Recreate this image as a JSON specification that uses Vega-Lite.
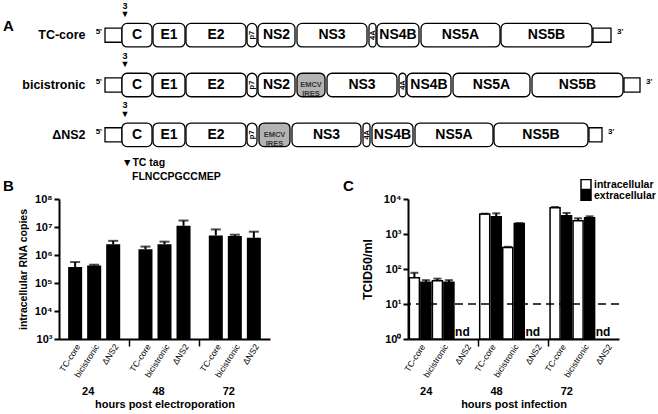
{
  "$schema": "https://vega.github.io/schema/vega-lite/v6.json",
  "padding": {"left": 3, "top": 1, "right": 0, "bottom": 0},
  "bounds": "flush",
  "spacing": 39,
  "config": {
    "font": "Liberation Sans",
    "view": {"stroke": null},
    "axis": {"domainColor": "black", "domainWidth": 2, "tickColor": "black", "tickWidth": 2, "labelColor": "black", "titleColor": "black", "labelFontWeight": "bold", "titleFontWeight": "bold", "grid": false},
    "title": {"fontSize": 15, "fontWeight": "bold", "anchor": "start", "frame": "group", "offset": 0, "color": "black"},
    "text": {"color": "black"}
  },
  "vconcat": [
    {
      "width": 599,
      "height": 150,
      "data": {"values": [
        {"row": "TC-core", "name": "5'", "kind": "utr", "start": 0, "end": 17},
        {"row": "TC-core", "name": "C", "kind": "orf", "start": 17, "end": 47},
        {"row": "TC-core", "name": "E1", "kind": "orf", "start": 48, "end": 80},
        {"row": "TC-core", "name": "E2", "kind": "orf", "start": 81, "end": 141},
        {"row": "TC-core", "name": "p7", "kind": "small", "start": 142, "end": 152},
        {"row": "TC-core", "name": "NS2", "kind": "orf", "start": 153, "end": 190},
        {"row": "TC-core", "name": "NS3", "kind": "orf", "start": 192, "end": 262},
        {"row": "TC-core", "name": "4A", "kind": "small", "start": 264, "end": 271},
        {"row": "TC-core", "name": "NS4B", "kind": "orf", "start": 272, "end": 314},
        {"row": "TC-core", "name": "NS5A", "kind": "orf", "start": 316, "end": 395},
        {"row": "TC-core", "name": "NS5B", "kind": "orf", "start": 396, "end": 487},
        {"row": "TC-core", "name": "3'", "kind": "utr", "start": 488, "end": 506},
        {"row": "bicistronic", "name": "5'", "kind": "utr", "start": 0, "end": 17},
        {"row": "bicistronic", "name": "C", "kind": "orf", "start": 17, "end": 47},
        {"row": "bicistronic", "name": "E1", "kind": "orf", "start": 48, "end": 80},
        {"row": "bicistronic", "name": "E2", "kind": "orf", "start": 81, "end": 141},
        {"row": "bicistronic", "name": "p7", "kind": "small", "start": 142, "end": 152},
        {"row": "bicistronic", "name": "NS2", "kind": "orf", "start": 153, "end": 190},
        {"row": "bicistronic", "name": "EMCV\nIRES", "kind": "ires", "start": 192, "end": 220},
        {"row": "bicistronic", "name": "NS3", "kind": "orf", "start": 222, "end": 292},
        {"row": "bicistronic", "name": "4A", "kind": "small", "start": 294, "end": 301},
        {"row": "bicistronic", "name": "NS4B", "kind": "orf", "start": 302, "end": 346},
        {"row": "bicistronic", "name": "NS5A", "kind": "orf", "start": 348, "end": 425},
        {"row": "bicistronic", "name": "NS5B", "kind": "orf", "start": 427, "end": 518},
        {"row": "bicistronic", "name": "3'", "kind": "utr", "start": 519, "end": 535},
        {"row": "ΔNS2", "name": "5'", "kind": "utr", "start": 0, "end": 17},
        {"row": "ΔNS2", "name": "C", "kind": "orf", "start": 17, "end": 47},
        {"row": "ΔNS2", "name": "E1", "kind": "orf", "start": 48, "end": 80},
        {"row": "ΔNS2", "name": "E2", "kind": "orf", "start": 81, "end": 141},
        {"row": "ΔNS2", "name": "p7", "kind": "small", "start": 142, "end": 152},
        {"row": "ΔNS2", "name": "EMCV\nIRES", "kind": "ires", "start": 154, "end": 185},
        {"row": "ΔNS2", "name": "NS3", "kind": "orf", "start": 187, "end": 256},
        {"row": "ΔNS2", "name": "4A", "kind": "small", "start": 258, "end": 265},
        {"row": "ΔNS2", "name": "NS4B", "kind": "orf", "start": 267, "end": 308},
        {"row": "ΔNS2", "name": "NS5A", "kind": "orf", "start": 310, "end": 388},
        {"row": "ΔNS2", "name": "NS5B", "kind": "orf", "start": 389, "end": 483},
        {"row": "ΔNS2", "name": "3'", "kind": "utr", "start": 484, "end": 497}
      ]},
      "transform": [{"calculate": "(datum.start + datum.end) / 2", "as": "mid"}],
      "encoding": {
        "y": {"field": "row", "type": "nominal", "title": null,
          "scale": {"domain": ["TC-core", "bicistronic", "ΔNS2"], "paddingInner": 0.528, "paddingOuter": 0.27},
          "axis": {"domain": false, "ticks": false, "labelPadding": 0, "offset": -26, "labelFontSize": 12.5, "labelFontWeight": "bold"}}
      },
      "layer": [
        {
          "transform": [{"filter": "datum.kind === 'utr'"}],
          "mark": {"type": "bar", "height": {"band": 0.6}, "fill": "white", "stroke": "black", "strokeWidth": 1.3},
          "encoding": {
            "x": {"field": "start", "type": "quantitative", "scale": {"domain": [-46, 553], "nice": false, "zero": false}, "axis": null},
            "x2": {"field": "end"}
          }
        },
        {
          "transform": [{"filter": "datum.kind !== 'utr'"}],
          "mark": {"type": "bar", "cornerRadius": 5, "stroke": "black", "strokeWidth": 1.3},
          "encoding": {
            "x": {"field": "start", "type": "quantitative", "axis": null},
            "x2": {"field": "end"},
            "fill": {"condition": {"test": "datum.kind === 'ires'", "value": "#b3b3b3"}, "value": "white"}
          }
        },
        {
          "transform": [{"filter": "datum.kind === 'orf'"}],
          "mark": {"type": "text", "fontSize": 14, "fontWeight": "bold", "align": "center", "baseline": "middle"},
          "encoding": {"x": {"field": "mid", "type": "quantitative"}, "text": {"field": "name"}}
        },
        {
          "transform": [{"filter": "datum.kind === 'small'"}],
          "mark": {"type": "text", "fontSize": 7.5, "fontWeight": "bold", "align": "center", "baseline": "middle", "angle": 270},
          "encoding": {"x": {"field": "mid", "type": "quantitative"}, "text": {"field": "name"}}
        },
        {
          "transform": [{"filter": "datum.kind === 'ires'"}],
          "mark": {"type": "text", "fontSize": 7.5, "fontWeight": "bold", "align": "center", "baseline": "middle", "lineBreak": "\n", "lineHeight": 9, "color": "#333333"},
          "encoding": {"x": {"field": "mid", "type": "quantitative"}, "text": {"field": "name"}}
        },
        {
          "transform": [{"filter": "datum.name === \"5'\""}],
          "mark": {"type": "text", "fontSize": 8, "fontWeight": "bold", "align": "right", "baseline": "middle", "dx": -3, "dy": -3},
          "encoding": {"x": {"field": "start", "type": "quantitative"}, "text": {"field": "name"}}
        },
        {
          "transform": [{"filter": "datum.name === \"3'\""}],
          "mark": {"type": "text", "fontSize": 8, "fontWeight": "bold", "align": "left", "baseline": "middle", "dx": 6, "dy": -3},
          "encoding": {"x": {"field": "end", "type": "quantitative"}, "text": {"field": "name"}}
        },
        {
          "transform": [{"filter": "datum.name === 'C'"}],
          "mark": {"type": "text", "fontSize": 9, "fontWeight": "bold", "align": "center", "baseline": "middle", "dx": 3, "dy": -29.5, "text": "3"},
          "encoding": {"x": {"field": "start", "type": "quantitative"}}
        },
        {
          "transform": [{"filter": "datum.name === 'C'"}],
          "mark": {"type": "text", "fontSize": 9, "align": "center", "baseline": "middle", "dx": 3, "dy": -21, "text": "▼"},
          "encoding": {"x": {"field": "start", "type": "quantitative"}}
        },
        {
          "transform": [{"filter": "datum.name === 'C' && datum.row === 'ΔNS2'"}],
          "mark": {"type": "text", "fontSize": 10.5, "fontWeight": "bold", "align": "left", "baseline": "middle", "dy": 28, "text": "▼TC tag"},
          "encoding": {"x": {"field": "start", "type": "quantitative"}}
        },
        {
          "transform": [{"filter": "datum.name === 'C' && datum.row === 'ΔNS2'"}],
          "mark": {"type": "text", "fontSize": 10.5, "fontWeight": "bold", "align": "left", "baseline": "middle", "dx": 10, "dy": 42, "text": "FLNCCPGCCMEP"},
          "encoding": {"x": {"field": "start", "type": "quantitative"}}
        },
        {
          "data": {"values": [{"panel": "A"}]},
          "mark": {"type": "text", "fontSize": 15, "fontWeight": "bold", "align": "left", "baseline": "middle", "dx": -56, "dy": -9},
          "encoding": {"x": {"datum": -46}, "y": {"datum": "TC-core"}, "text": {"field": "panel"}}
        }
      ]
    },
    {
      "bounds": "flush",
      "spacing": 138,
      "resolve": {"scale": {"xOffset": "independent"}},
      "hconcat": [
        {
          "width": 211,
          "height": 140,
          "title": {"text": "B", "dx": -56, "dy": 4.5},
          "data": {"values": [
            {"hour": "24", "construct": "TC-core", "value": 370000, "err": 560000},
            {"hour": "24", "construct": "bicistronic", "value": 420000, "err": 450000},
            {"hour": "24", "construct": "ΔNS2", "value": 2400000, "err": 3200000},
            {"hour": "48", "construct": "TC-core", "value": 1600000, "err": 2000000},
            {"hour": "48", "construct": "bicistronic", "value": 2400000, "err": 3000000},
            {"hour": "48", "construct": "ΔNS2", "value": 11000000, "err": 17000000},
            {"hour": "72", "construct": "TC-core", "value": 5000000, "err": 8200000},
            {"hour": "72", "construct": "bicistronic", "value": 4800000, "err": 5300000},
            {"hour": "72", "construct": "ΔNS2", "value": 4100000, "err": 6800000}
          ]},
          "layer": [
            {
              "mark": {"type": "bar", "fill": "black"},
              "encoding": {
                "x": {"field": "hour", "type": "nominal", "title": "hours post electroporation",
                  "scale": {"domain": ["24", "48", "72"], "paddingInner": 0, "paddingOuter": 0},
                  "axis": {"labels": false, "values": ["48", "72"], "bandPosition": 0, "tickSize": 7, "tickWidth": 1.5, "titleFontSize": 11, "titlePadding": 52}},
                "xOffset": {"field": "construct", "type": "nominal", "scale": {"domain": ["TC-core", "bicistronic", "ΔNS2"], "range": [0, 70.33], "paddingInner": 0.263, "paddingOuter": 0.48}},
                "y": {"field": "value", "type": "quantitative", "title": "intracellular RNA copies",
                  "scale": {"type": "log", "domain": [1000, 100000000], "nice": false},
                  "axis": {"values": [1000, 10000, 100000, 1000000, 10000000, 100000000], "labelExpr": "'10' + ['⁰','¹','²','³','⁴','⁵','⁶','⁷','⁸'][round(log(datum.value)/LN10)]", "tickSize": 5, "labelFontSize": 11, "labelPadding": 2, "titleFontSize": 10.5, "titlePadding": 6}},
                "y2": {"datum": 1000}
              }
            },
            {
              "mark": {"type": "rule", "strokeWidth": 2, "color": "black"},
              "encoding": {
                "x": {"field": "hour", "type": "nominal", "title": "hours post electroporation"},
                "xOffset": {"field": "construct", "type": "nominal"},
                "y": {"field": "value", "type": "quantitative", "title": "intracellular RNA copies"},
                "y2": {"field": "err"}
              }
            },
            {
              "mark": {"type": "tick", "thickness": 2, "size": 10, "color": "black"},
              "encoding": {
                "x": {"field": "hour", "type": "nominal", "title": "hours post electroporation"},
                "xOffset": {"field": "construct", "type": "nominal"},
                "y": {"field": "err", "type": "quantitative", "title": "intracellular RNA copies"}
              }
            },
            {
              "mark": {"type": "text", "angle": -57, "align": "right", "baseline": "middle", "fontSize": 8.5, "dx": -3.4, "dy": 5.8},
              "encoding": {
                "x": {"field": "hour", "type": "nominal", "title": "hours post electroporation"},
                "xOffset": {"field": "construct", "type": "nominal"},
                "y": {"datum": 1000},
                "text": {"field": "construct"}
              }
            },
            {
              "data": {"values": [{"hour": "24"}, {"hour": "48"}, {"hour": "72"}]},
              "mark": {"type": "text", "fontSize": 11, "fontWeight": "bold", "baseline": "middle", "align": "center", "dx": -6, "dy": 53},
              "encoding": {
                "x": {"field": "hour", "type": "nominal", "title": "hours post electroporation"},
                "y": {"datum": 1000},
                "text": {"field": "hour"}
              }
            }
          ]
        },
        {
          "width": 211,
          "height": 140,
          "title": {"text": "C", "dx": -65, "dy": 4.5},
          "data": {"values": [
            {"hour": "24", "construct": "TC-core", "series": "intracellular", "value": 56, "err": 78},
            {"hour": "24", "construct": "TC-core", "series": "extracellular", "value": 42, "err": 48},
            {"hour": "24", "construct": "bicistronic", "series": "intracellular", "value": 46, "err": 53},
            {"hour": "24", "construct": "bicistronic", "series": "extracellular", "value": 42, "err": 48},
            {"hour": "24", "construct": "ΔNS2", "series": "intracellular", "value": null, "err": null},
            {"hour": "24", "construct": "ΔNS2", "series": "extracellular", "value": null, "err": null},
            {"hour": "48", "construct": "TC-core", "series": "intracellular", "value": 3700, "err": 3800},
            {"hour": "48", "construct": "TC-core", "series": "extracellular", "value": 3100, "err": 3900},
            {"hour": "48", "construct": "bicistronic", "series": "intracellular", "value": 410, "err": 430},
            {"hour": "48", "construct": "bicistronic", "series": "extracellular", "value": 2000, "err": 2050},
            {"hour": "48", "construct": "ΔNS2", "series": "intracellular", "value": null, "err": null},
            {"hour": "48", "construct": "ΔNS2", "series": "extracellular", "value": null, "err": null},
            {"hour": "72", "construct": "TC-core", "series": "intracellular", "value": 5600, "err": 5900},
            {"hour": "72", "construct": "TC-core", "series": "extracellular", "value": 3300, "err": 4000},
            {"hour": "72", "construct": "bicistronic", "series": "intracellular", "value": 2400, "err": 2800},
            {"hour": "72", "construct": "bicistronic", "series": "extracellular", "value": 2900, "err": 3200},
            {"hour": "72", "construct": "ΔNS2", "series": "intracellular", "value": null, "err": null},
            {"hour": "72", "construct": "ΔNS2", "series": "extracellular", "value": null, "err": null}
          ]},
          "transform": [{"calculate": "datum.construct + '|' + datum.series", "as": "slot"}],
          "layer": [
            {
              "transform": [{"filter": "datum.value != null"}],
              "mark": {"type": "bar", "stroke": "black", "strokeWidth": 1.5},
              "encoding": {
                "x": {"field": "hour", "type": "nominal", "title": "hours post infection",
                  "scale": {"domain": ["24", "48", "72"], "paddingInner": 0, "paddingOuter": 0},
                  "axis": {"labels": false, "values": ["48", "72"], "bandPosition": 0, "tickSize": 7, "tickWidth": 1.5, "titleFontSize": 11, "titlePadding": 52}},
                "xOffset": {"field": "slot", "type": "nominal", "scale": {"domain": ["TC-core|intracellular", "TC-core|extracellular", "bicistronic|intracellular", "bicistronic|extracellular", "ΔNS2|intracellular", "ΔNS2|extracellular"], "range": [0, 70.33], "paddingInner": 0.13, "paddingOuter": 0.12}},
                "y": {"field": "value", "type": "quantitative", "title": "TCID50/ml",
                  "scale": {"type": "log", "domain": [1, 10000], "nice": false},
                  "axis": {"values": [1, 10, 100, 1000, 10000], "labelExpr": "'10' + ['⁰','¹','²','³','⁴','⁵','⁶','⁷','⁸'][round(log(datum.value)/LN10)]", "tickSize": 5, "labelFontSize": 11, "labelPadding": 2, "titleFontSize": 12.5, "titlePadding": 9}},
                "y2": {"datum": 1},
                "fill": {"field": "series", "type": "nominal",
                  "scale": {"domain": ["intracellular", "extracellular"], "range": ["white", "black"]},
                  "legend": {"title": null, "orient": "none", "legendX": 521, "legendY": 169, "symbolType": "square", "symbolSize": 100, "symbolStrokeColor": "black", "symbolStrokeWidth": 1.5, "labelFontSize": 10.5, "labelFontWeight": "bold", "labelColor": "black", "labelOffset": 2, "labelLimit": 80, "rowPadding": 0, "clipHeight": 11, "padding": 0}}
              }
            },
            {
              "transform": [{"filter": "datum.value != null"}],
              "mark": {"type": "rule", "strokeWidth": 2, "color": "black"},
              "encoding": {
                "x": {"field": "hour", "type": "nominal", "title": "hours post infection"},
                "xOffset": {"field": "slot", "type": "nominal"},
                "y": {"field": "value", "type": "quantitative", "title": "TCID50/ml"},
                "y2": {"field": "err"}
              }
            },
            {
              "transform": [{"filter": "datum.value != null"}],
              "mark": {"type": "tick", "thickness": 2, "size": 8, "color": "black"},
              "encoding": {
                "x": {"field": "hour", "type": "nominal", "title": "hours post infection"},
                "xOffset": {"field": "slot", "type": "nominal"},
                "y": {"field": "err", "type": "quantitative", "title": "TCID50/ml"}
              }
            },
            {
              "data": {"values": [{"limit": 10}]},
              "mark": {"type": "rule", "strokeDash": [8, 5], "strokeWidth": 1.5, "color": "black"},
              "encoding": {"y": {"field": "limit", "type": "quantitative", "title": "TCID50/ml"}}
            },
            {
              "transform": [{"filter": "datum.series === 'intracellular'"}],
              "mark": {"type": "text", "angle": -57, "align": "right", "baseline": "middle", "fontSize": 8.5, "dx": -0.3, "dy": 10.6},
              "encoding": {
                "x": {"field": "hour", "type": "nominal", "title": "hours post infection"},
                "xOffset": {"field": "slot", "type": "nominal"},
                "y": {"datum": 1},
                "text": {"field": "construct"}
              }
            },
            {
              "transform": [{"filter": "datum.value == null && datum.series === 'intracellular'"}],
              "mark": {"type": "text", "fontSize": 12, "fontWeight": "bold", "align": "center", "baseline": "alphabetic", "dx": 2, "dy": -3, "text": "nd"},
              "encoding": {
                "x": {"field": "hour", "type": "nominal", "title": "hours post infection"},
                "xOffset": {"field": "slot", "type": "nominal"},
                "y": {"datum": 1}
              }
            },
            {
              "data": {"values": [{"hour": "24"}, {"hour": "48"}, {"hour": "72"}]},
              "mark": {"type": "text", "fontSize": 11, "fontWeight": "bold", "baseline": "middle", "align": "center", "dx": -17, "dy": 53},
              "encoding": {
                "x": {"field": "hour", "type": "nominal", "title": "hours post infection"},
                "y": {"datum": 1},
                "text": {"field": "hour"}
              }
            }
          ]
        }
      ]
    }
  ]
}
